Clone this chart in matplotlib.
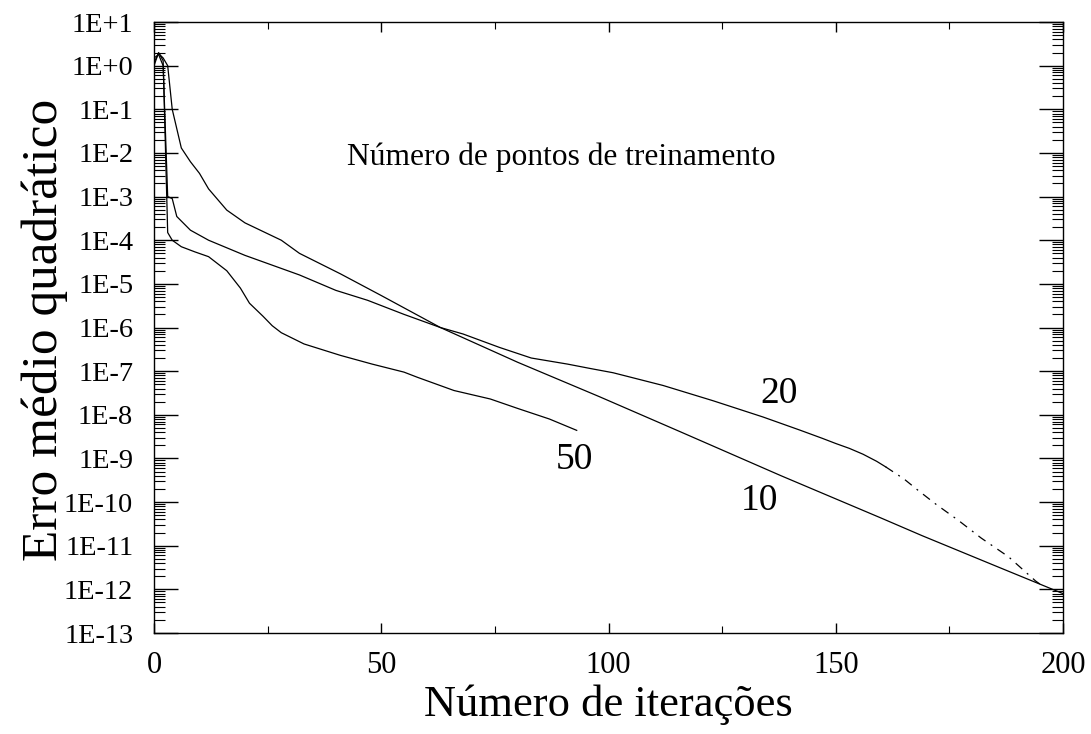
import numpy as np
import matplotlib.pyplot as plt
from matplotlib.ticker import FixedLocator, FuncFormatter, MultipleLocator, NullFormatter

plt.rcParams['font.family'] = ['Liberation Serif', 'DejaVu Serif']

# erro médio quadrático por iteração, para 10, 20 e 50 pontos de treinamento
iter_10 = [0, 1, 2, 3, 4, 6, 8, 10, 12, 16, 20, 28, 32, 41, 50, 63, 80, 98,
           116, 138, 160, 169, 185, 200]
erro_10 = [1.2, 1.9, 1.5, 1.0, 1.0e-1, 1.3e-2, 6.3e-3, 3.4e-3, 1.5e-3, 4.9e-4,
           2.5e-4, 1.0e-4, 5.0e-5, 1.7e-5, 5.4e-6, 1.0e-6, 1.6e-7, 2.6e-8,
           4.0e-9, 4.0e-10, 4.3e-11, 1.7e-11, 3.5e-12, 8.0e-13]

iter_20 = [0, 1, 2, 3, 4, 5, 8, 12, 20, 32, 40, 47, 55, 63, 68, 76, 83, 91, 96,
           101, 112, 123, 134, 142, 147, 150, 153, 156, 159, 161, 165, 168, 172,
           177, 182, 188, 194, 196]
erro_20 = [1.5, 1.8, 1.0, 1.0e-3, 9.0e-4, 3.5e-4, 1.7e-4, 1.0e-4, 4.5e-5,
           1.6e-5, 7.1e-6, 4.2e-6, 2.0e-6, 1.0e-6, 7.1e-7, 3.5e-7, 2.0e-7,
           1.45e-7, 1.15e-7, 9.2e-8, 4.7e-8, 2.1e-8, 8.9e-9, 4.5e-9, 2.9e-9,
           2.2e-9, 1.7e-9, 1.25e-9, 8.6e-10, 6.4e-10, 3.4e-10, 1.9e-10, 9.0e-11,
           3.8e-11, 1.5e-11, 5.6e-12, 1.55e-12, 1.1e-12]

iter_50 = [0, 1, 2, 3, 4, 6, 9, 12, 16, 19, 21, 24, 26, 28, 33, 41, 48, 55, 58,
           66, 74, 80, 87, 93]
erro_50 = [1.0, 2.0, 1.3, 1.5e-4, 1.0e-4, 7.1e-5, 5.4e-5, 4.2e-5, 2.0e-5,
           8.0e-6, 3.6e-6, 1.8e-6, 1.1e-6, 7.6e-7, 4.2e-7, 2.3e-7, 1.45e-7,
           9.5e-8, 7.2e-8, 3.6e-8, 2.3e-8, 1.4e-8, 8.0e-9, 4.4e-9]

# rótulos das curvas: (texto, iteração, erro)
rotulos = [("20", 137.5, 3.0e-8), ("10", 133.3, 1.1e-10), ("50", 92.6, 9.2e-10)]

decadas = [10.0 ** k for k in range(-13, 2)]

fig = plt.figure(figsize=(10.91, 7.34), dpi=100)
ax = fig.add_axes([0.1412, 0.1376, 0.8331, 0.8324])
ax.set_yscale('log')

lw = 0.9
ax.plot(iter_10, erro_10, color='black', lw=lw)
ax.plot(iter_50, erro_50, color='black', lw=lw)

# a cauda da curva de 20 pontos sai tracejada
corte = iter_20.index(161)
ax.plot(iter_20[:corte + 1], erro_20[:corte + 1], color='black', lw=lw)
ax.plot(iter_20[corte:], erro_20[corte:], color='black', lw=lw,
        linestyle=(0, (7, 5, 1.5, 5)))

ax.set_xlim(0, 200)
ax.set_ylim(1e-13, 1e1)

ax.yaxis.set_major_locator(FixedLocator(decadas))
ax.yaxis.set_major_formatter(FuncFormatter(
    lambda v, pos: "1E%+d" % int(round(np.log10(v)))))
ax.yaxis.set_minor_locator(FixedLocator(
    [m * d for d in decadas[:-1] for m in range(2, 10)]))
ax.yaxis.set_minor_formatter(NullFormatter())
ax.xaxis.set_major_locator(MultipleLocator(50))
ax.xaxis.set_minor_locator(MultipleLocator(25))

ax.tick_params(axis='y', which='major', direction='in', length=17, width=1.0,
               right=True, labelsize=20.5, pad=15)
ax.tick_params(axis='y', which='minor', direction='in', length=8, width=0.8,
               right=True)
ax.tick_params(axis='x', which='major', direction='in', length=7, width=1.0,
               top=True, labelsize=22, pad=13)
ax.tick_params(axis='x', which='minor', direction='in', length=5, width=0.8,
               top=True)
for s in ax.spines.values():
    s.set_linewidth(1.0)

ax.text(0.448, 0.779, "Número de pontos de treinamento", transform=ax.transAxes,
        ha='center', va='center', fontsize=22.7)
for txt, xi, yi in rotulos:
    ax.text(xi, yi, txt, ha='center', va='center', fontsize=27)

fig.text(45 / 1091, 1 - 330 / 734, "Erro médio quadrático", rotation=90,
         ha='center', va='center', fontsize=37)
fig.text(608 / 1091, 1 - 705 / 734, "Número de iterações",
         ha='center', va='center', fontsize=32)

fig.savefig("out.png", dpi=100)
